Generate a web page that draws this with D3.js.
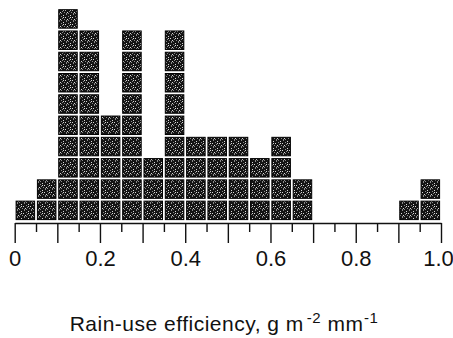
<!DOCTYPE html>
<html>
<head>
<meta charset="utf-8">
<script src="https://cdn.jsdelivr.net/npm/d3@7"></script>
<style>
  body { margin: 0; background: #fff; }
  svg { display: block; }
  text { font-family: "Liberation Sans", Arial, Helvetica, sans-serif; fill: #111; }
</style>
</head>
<body>
<svg id="chart" width="453" height="338"></svg>
<script>
// Histogram of rain-use efficiency, one stacked square per observation
const binStarts = [0.00, 0.05, 0.10, 0.15, 0.20, 0.25, 0.30, 0.35, 0.40, 0.45,
                   0.50, 0.55, 0.60, 0.65, 0.70, 0.75, 0.80, 0.85, 0.90, 0.95];
const binCounts = [1, 2, 10, 9, 5, 9, 3, 9, 4, 4,
                   4, 3, 4, 2, 0, 0, 0, 0, 1, 2];
const binWidth = 0.05;
const majorTicks = [0, 0.1, 0.2, 0.3, 0.4, 0.5, 0.6, 0.7, 0.8, 0.9, 1.0];
const minorTicks = [0.05, 0.15, 0.25, 0.35, 0.45, 0.55, 0.65, 0.75, 0.85, 0.95];
const tickLabels = {0: "0", 0.2: "0.2", 0.4: "0.4", 0.6: "0.6", 0.8: "0.8", 1: "1.0"};
const axisTitle = ["Rain-use efficiency, g m", "-2", " mm", "-1"];

const svg = d3.select("#chart");
const axisY = 223;

const x = d3.scaleLinear().domain([0, 1]).range([14.7, 441]);
const y = d3.scaleLinear().domain([0, 10]).range([221, 8.3]);

// stippled fill for the squares
const defs = svg.append("defs");
const pat = defs.append("pattern")
  .attr("id", "stipple").attr("patternUnits", "userSpaceOnUse")
  .attr("width", 7).attr("height", 7);
pat.append("rect").attr("width", 7).attr("height", 7).attr("fill", "#141414");
const specks = [[0,1],[3,0],[5,2],[2,3],[6,4],[1,5],[4,5],[3,6],[5,6],[0,3]];
pat.selectAll("rect.s").data(specks).join("rect")
  .attr("class", "s")
  .attr("x", d => d[0]).attr("y", d => d[1])
  .attr("width", 1).attr("height", 1)
  .attr("fill", (d, i) => i % 3 === 0 ? "#d8d8d8" : "#8a8a8a");

// one unit per observation
const units = [];
binStarts.forEach((s, i) => {
  for (let k = 0; k < binCounts[i]; k++) units.push({ start: s, level: k });
});

const gap = 2.8;
svg.append("g").selectAll("rect").data(units).join("rect")
  .attr("x", d => x(d.start) + gap / 2)
  .attr("y", d => y(d.level + 1) + gap / 2)
  .attr("width", d => x(d.start + binWidth) - x(d.start) - gap)
  .attr("height", d => y(d.level) - y(d.level + 1) - gap)
  .attr("fill", "url(#stipple)")
  .attr("stroke", "#000")
  .attr("stroke-width", 1);

// minor ticks
const minorAxis = d3.axisBottom(x)
  .tickValues(minorTicks).tickSize(9).tickSizeOuter(0).tickFormat("");
svg.append("g").attr("transform", `translate(0,${axisY})`).call(minorAxis)
  .call(g => g.select(".domain").remove());

// major ticks with labels
const majorAxis = d3.axisBottom(x)
  .tickValues(majorTicks).tickSize(20).tickSizeOuter(0).tickPadding(7)
  .tickFormat(d => tickLabels[d] !== undefined ? tickLabels[d] : "");
const gx = svg.append("g").attr("transform", `translate(0,${axisY})`).call(majorAxis);
svg.selectAll("g line, g path.domain").attr("stroke", "#111").attr("stroke-width", 1.4);
gx.selectAll("text").attr("font-size", 22).attr("fill", "#111")
  .style("font-family", "'Liberation Sans', Arial, sans-serif")
  .attr("dx", d => d === 1 ? -3 : 0);

// axis title with superscripts
const title = svg.append("text")
  .attr("x", 224).attr("y", 331)
  .attr("text-anchor", "middle")
  .attr("font-size", 21)
  .attr("letter-spacing", 0.5);
axisTitle.forEach((t, i) => {
  const sup = i % 2 === 1;
  title.append("tspan")
    .attr("font-size", sup ? 15 : 21)
    .attr("dy", sup ? -8 : (i === 0 ? 0 : 8))
    .attr("dx", i === 1 ? 3 : (i === 3 ? 0.5 : 0))
    .text(t);
});
</script>
</body>
</html>
